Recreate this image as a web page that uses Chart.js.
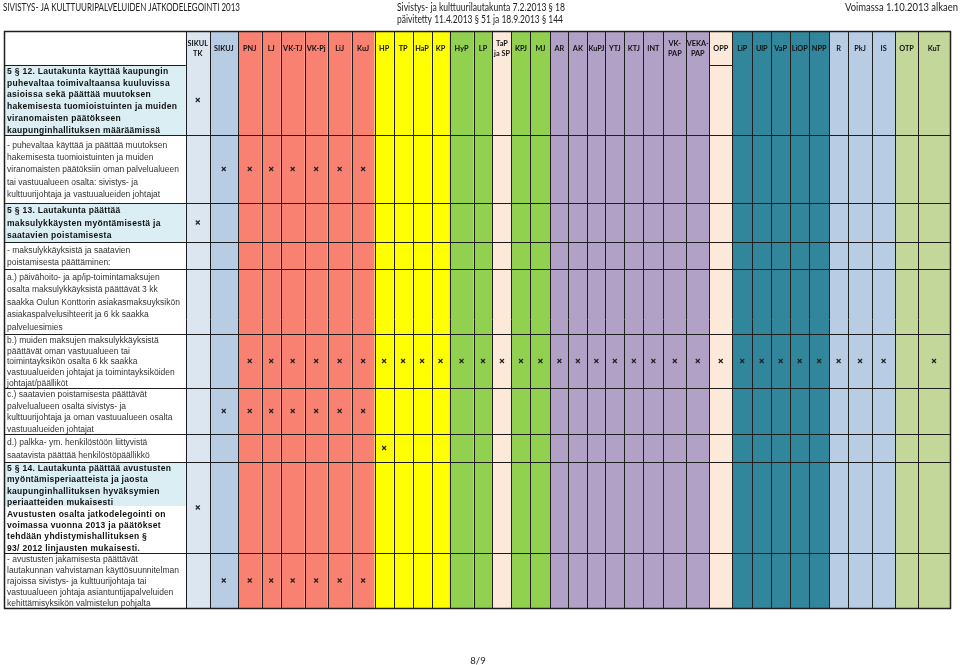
<!DOCTYPE html>
<html>
<head>
<meta charset="utf-8">
<script src="https://cdn.jsdelivr.net/npm/chart.js@4"></script>
<style>
html, body { margin: 0; padding: 0; background: #fff; }
canvas { display: block; }
</style>
</head>
<body>
<canvas id="myChart" width="960" height="665"></canvas>
<script>
"use strict";

// sarakkeet (toimielimet / viranhaltijat)
const columns = ["SIKUL TK", "SIKUJ", "PNJ", "LJ", "VK-TJ", "VK-Pj", "LiJ", "KuJ", "HP", "TP", "HaP", "KP",
    "HyP", "LP", "TaP ja SP", "KPJ", "MJ", "AR", "AK", "KuPJ", "YTJ", "KTJ", "INT", "VK-PAP", "VEKA-PAP",
    "OPP", "LiP", "UlP", "VaP", "LiOP", "NPP", "R", "PkJ", "IS", "OTP", "KuT"];

const headerLabels = [["SIKUL", "TK"], ["SIKUJ"], ["PNJ"], ["LJ"], ["VK-TJ"], ["VK-Pj"], ["LiJ"], ["KuJ"], ["HP"], ["TP"], ["HaP"], ["KP"],
    ["HyP"], ["LP"], ["TaP", "ja SP"], ["KPJ"], ["MJ"], ["AR"], ["AK"], ["KuPJ"], ["YTJ"], ["KTJ"], ["INT"], ["VK-", "PAP"], ["VEKA-", "PAP"],
    ["OPP"], ["LiP"], ["UlP"], ["VaP"], ["LiOP"], ["NPP"], ["R"], ["PkJ"], ["IS"], ["OTP"], ["KuT"]];

const columnGroups = ["sikultk", "sikuj", "red", "red", "red", "red", "red", "red", "yellow", "yellow", "yellow", "yellow",
    "green", "green", "peach", "green", "green", "purple", "purple", "purple", "purple", "purple", "purple", "purple", "purple",
    "peach", "teal", "teal", "teal", "teal", "teal", "lblue", "lblue", "lblue", "olive", "olive"];

// rivien tekstit
const rowTexts = [
    ["5 § 12. Lautakunta käyttää kaupungin", "puhevaltaa toimivaltaansa kuuluvissa", "asioissa sekä päättää muutoksen",
        "hakemisesta tuomioistuinten ja muiden", "viranomaisten päätökseen", "kaupunginhallituksen määräämissä", "rajoissa"],
    ["- puhevaltaa käyttää ja päättää muutoksen", "hakemisesta tuomioistuinten ja muiden", "viranomaisten päätöksiin oman palvelualueen",
        "tai vastuualueen osalta: sivistys- ja", "kulttuurijohtaja ja vastuualueiden johtajat"],
    ["5 § 13. Lautakunta päättää", "maksulykkäysten myöntämisestä ja", "saatavien poistamisesta"],
    ["- maksulykkäyksistä ja saatavien", "poistamisesta päättäminen:"],
    ["a.) päivähoito- ja ap/ip-toimintamaksujen", "osalta maksulykkäyksistä päättävät 3 kk", "saakka Oulun Konttorin asiakasmaksuyksikön",
        "asiakaspalvelusihteerit ja 6 kk saakka", "palveluesimies"],
    ["b.) muiden maksujen maksulykkäyksistä", "päättävät oman vastuualueen tai", "toimintayksikön osalta 6 kk saakka",
        "vastuualueiden johtajat ja toimintayksiköiden", "johtajat/päälliköt"],
    ["c.) saatavien poistamisesta päättävät", "palvelualueen osalta sivistys- ja", "kulttuurijohtaja ja oman vastuualueen osalta",
        "vastuualueiden johtajat"],
    ["d.) palkka- ym. henkilöstöön liittyvistä", "saatavista päättää henkilöstöpäällikkö"],
    ["5 § 14. Lautakunta päättää avustusten", "myöntämisperiaatteista ja jaosta", "kaupunginhallituksen hyväksymien",
        "periaatteiden mukaisesti", "Avustusten osalta jatkodelegointi on", "voimassa vuonna 2013 ja päätökset",
        "tehdään yhdistymishallituksen §", "93/ 2012 linjausten mukaisesti."],
    ["- avustusten jakamisesta päättävät", "lautakunnan vahvistaman käyttösuunnitelman", "rajoissa sivistys- ja kulttuurijohtaja tai",
        "vastuualueen johtaja asiantuntijapalveluiden", "kehittämisyksikön valmistelun pohjalta"]
];

const redCols = ["PNJ", "LJ", "VK-TJ", "VK-Pj", "LiJ", "KuJ"];

// x-merkinnät riveittäin
const marks = [
    ["SIKUL TK"],
    ["SIKUJ"].concat(redCols),
    ["SIKUL TK"],
    [],
    [],
    columns.filter(c => c !== "SIKUL TK" && c !== "SIKUJ" && c !== "OTP"),
    ["SIKUJ"].concat(redCols),
    ["HP"],
    ["SIKUL TK"],
    ["SIKUJ"].concat(redCols)
];

// ulkoasu
const tableLeft = 3;
const tableTop = 31;
const textColWidth = 182;
const colWidths = [24, 28, 24, 19, 24, 23, 24, 23, 19, 19, 19, 18, 24, 19, 19, 19, 20, 18, 19, 18, 19, 19, 20, 23, 23, 23,
    20, 19, 19, 19, 20, 19, 24, 23, 23, 32];
const headerHeight = 34;
const rowHeights = [70, 68, 39, 27, 65, 54, 46, 28, 91, 55];
const rowStyles = ["head", "plain", "head", "plain", "plain", "plain", "plain", "plain", "split", "plain"];
const rowAlign = ["top", "middle", "middle", "middle", "middle", "middle", "middle", "middle", "middle", "middle"];

const groupColors = {
    sikultk: "#dce6f1", sikuj: "#b8cce4", red: "#f98172", yellow: "#ffff00", green: "#92d050",
    peach: "#fde9d9", purple: "#b2a1c7", teal: "#31869b", lblue: "#b8cce4", olive: "#c4d79b"
};

const colEdges = [textColWidth];
colWidths.forEach(w => colEdges.push(colEdges[colEdges.length - 1] + w));
const rowEdges = [0, headerHeight];
rowHeights.forEach(h => rowEdges.push(rowEdges[rowEdges.length - 1] + h));
const tableWidth = colEdges[colEdges.length - 1];
const tableHeight = rowEdges[rowEdges.length - 1];

const points = [];
marks.forEach((list, r) => {
    list.forEach(code => {
        const c = columns.indexOf(code);
        points.push({ x: (colEdges[c] + colEdges[c + 1]) / 2, y: (rowEdges[r + 1] + rowEdges[r + 2]) / 2 });
    });
});

function fitText(ctx, text, x, y, w) {
    const m = ctx.measureText(text).width;
    ctx.save();
    ctx.translate(x, y);
    ctx.scale(w / m, 1);
    ctx.fillText(text, 0, 0);
    ctx.restore();
}

const tablePlugin = {
    id: "tablePlugin",
    beforeDatasetsDraw(chart) {
        const ctx = chart.ctx;
        const X = v => chart.scales.x.getPixelForValue(v);
        const Y = v => chart.scales.y.getPixelForValue(v);
        const top = Y(0), bottom = Y(tableHeight), left = X(0), right = X(tableWidth);

        ctx.save();
        // sarakkeiden värit
        columns.forEach((c, i) => {
            ctx.fillStyle = groupColors[columnGroups[i]];
            ctx.fillRect(X(colEdges[i]), top, X(colEdges[i + 1]) - X(colEdges[i]), bottom - top);
        });
        // tekstisarakkeen taustat
        rowStyles.forEach((s, r) => {
            const y0 = Y(rowEdges[r + 1]), y1 = Y(rowEdges[r + 2]);
            ctx.fillStyle = "#daeef3";
            if (s === "head") ctx.fillRect(left, y0, X(textColWidth) - left, y1 - y0);
            if (s === "split") ctx.fillRect(left, y0, X(textColWidth) - left, 44);
        });

        // viivat
        ctx.strokeStyle = "#1e1e1e";
        ctx.lineWidth = 1;
        ctx.beginPath();
        colEdges.forEach(e => {
            const px = Math.round(X(e)) + 0.5;
            ctx.moveTo(px, top);
            ctx.lineTo(px, bottom);
        });
        for (let r = 2; r < rowEdges.length - 1; r++) {
            const py = Math.round(Y(rowEdges[r])) + 0.5;
            ctx.moveTo(left, py);
            ctx.lineTo(right, py);
        }
        const hy = Math.round(Y(rowEdges[1])) + 0.5;
        ctx.moveTo(left, hy);
        ctx.lineTo(X(textColWidth), hy);
        const opp = columns.indexOf("OPP");
        ctx.moveTo(X(colEdges[opp]), hy);
        ctx.lineTo(X(colEdges[opp + 1]), hy);
        ctx.stroke();
        ctx.lineWidth = 1.5;
        ctx.strokeRect(Math.round(left) + 0.5, Math.round(top) + 0.5, Math.round(right - left), Math.round(bottom - top));

        // otsikkorivi
        ctx.fillStyle = "#111";
        ctx.font = "bold 7.3px Lato";
        ctx.textAlign = "center";
        ctx.textBaseline = "middle";
        const hc = Y(headerHeight / 2) + 0.5;
        headerLabels.forEach((lines, i) => {
            const cx = X((colEdges[i] + colEdges[i + 1]) / 2);
            if (lines.length === 1) {
                ctx.fillText(lines[0], cx, hc);
            } else {
                ctx.fillText(lines[0], cx, hc - 5);
                ctx.fillText(lines[1], cx, hc + 5);
            }
        });

        // rivien tekstit
        ctx.textAlign = "left";
        rowTexts.forEach((lines, r) => {
            const y0 = Y(rowEdges[r + 1]), y1 = Y(rowEdges[r + 2]);
            const h = y1 - y0;
            const bold = rowStyles[r] !== "plain";
            const lh = rowAlign[r] === "top" ? 11.8 : Math.min(12.4, h / lines.length);
            ctx.save();
            ctx.beginPath();
            ctx.rect(left, y0 + 1, X(textColWidth) - left, h - 1);
            ctx.clip();
            ctx.font = (bold ? "bold " : "") + "8.5px 'Liberation Sans'";
            ctx.letterSpacing = bold ? "0.3px" : "0px";
            ctx.fillStyle = bold ? "#111" : "#333";
            let start = rowAlign[r] === "top" ? y0 + 6.5 : y0 + h / 2 - (lines.length - 1) * lh / 2 + 1;
            lines.forEach((t, k) => ctx.fillText(t, left + 3, start + k * lh));
            ctx.restore();
        });
        ctx.restore();
    },
    afterDraw(chart) {
        const ctx = chart.ctx;
        ctx.save();
        ctx.fillStyle = "#222";
        ctx.textBaseline = "middle";
        ctx.textAlign = "left";
        ctx.font = "11px Lato";
        fitText(ctx, "SIVISTYS- JA KULTTUURIPALVELUIDEN JATKODELEGOINTI 2013", 3, 7, 237);
        fitText(ctx, "Sivistys- ja kulttuurilautakunta 7.2.2013 § 18", 397, 7, 168);
        fitText(ctx, "päivitetty 11.4.2013 § 51 ja 18.9.2013 § 144", 397, 19, 166);
        fitText(ctx, "Voimassa 1.10.2013 alkaen", 845, 7, 113);
        ctx.textAlign = "center";
        ctx.font = "9.5px Lato";
        ctx.fillText("8/9", 478, 661);
        ctx.restore();
    }
};

const chartDiv = document.getElementById("myChart");

new Chart(chartDiv, {
    type: "scatter",
    data: {
        datasets: [{
            label: "x",
            data: points,
            pointStyle: "crossRot",
            radius: 2.8,
            hoverRadius: 2.8,
            borderColor: "#222",
            backgroundColor: "#222",
            borderWidth: 1.2
        }]
    },
    options: {
        responsive: false,
        animation: false,
        devicePixelRatio: 1,
        events: [],
        layout: {
            padding: {
                left: tableLeft,
                top: tableTop,
                right: 960 - tableLeft - tableWidth,
                bottom: 665 - tableTop - tableHeight
            }
        },
        scales: {
            x: { type: "linear", display: false, min: 0, max: tableWidth },
            y: { type: "linear", display: false, reverse: true, min: 0, max: tableHeight }
        },
        plugins: {
            legend: { display: false },
            tooltip: { enabled: false }
        }
    },
    plugins: [tablePlugin]
});
</script>
</body>
</html>
